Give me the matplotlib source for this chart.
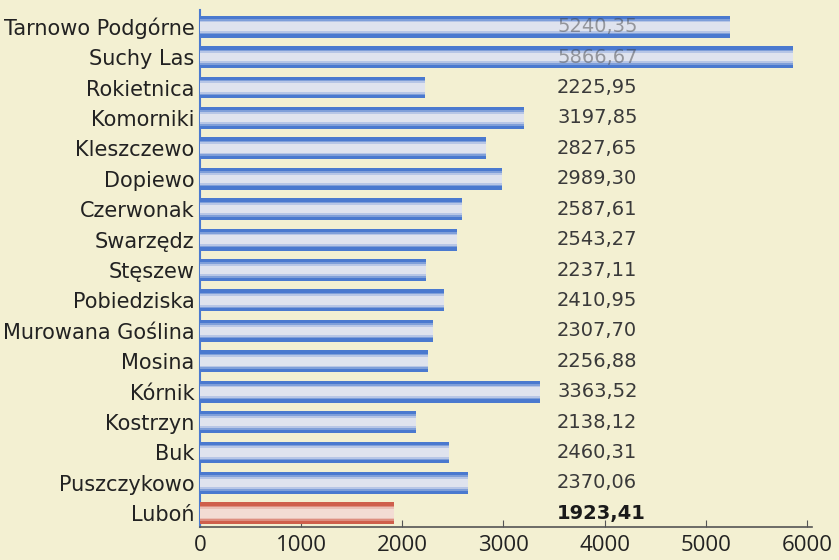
import numpy as np
import matplotlib.pyplot as plt

# dane z wykresu (od dołu do góry)
gminy = ["Luboń", "Puszczykowo", "Buk", "Kostrzyn", "Kórnik", "Mosina",
         "Murowana Goślina", "Pobiedziska", "Stęszew", "Swarzędz", "Czerwonak",
         "Dopiewo", "Kleszczewo", "Komorniki", "Rokietnica", "Suchy Las",
         "Tarnowo Podgórne"]
dlugosc_slupka = [1920, 2650, 2460, 2138, 3363, 2257, 2308, 2411, 2237, 2543,
                  2588, 2989, 2828, 3198, 2226, 5860, 5240]
etykiety = ["1923,41", "2370,06", "2460,31", "2138,12", "3363,52", "2256,88",
            "2307,70", "2410,95", "2237,11", "2543,27", "2587,61", "2989,30",
            "2827,65", "3197,85", "2225,95", "5866,67", "5240,35"]
xticks = [0, 1000, 2000, 3000, 4000, 5000, 6000]

TLO = "#f3f0d2"
NIEBIESKI = ["#4a79cf", "#7f9fd9", "#b7c6e6", "#dfe3ee"]
CZERWONY = ["#cf5f4c", "#dd8e80", "#ebc0b6", "#f3dcd4"]

plt.rcParams['font.family'] = ['DejaVu Sans']

fig = plt.figure(figsize=(8.39, 5.6), dpi=100, facecolor=TLO)
ax = fig.add_axes([200 / 839, 33 / 560, 612 / 839, 517 / 560], facecolor=TLO)

y = np.arange(len(gminy))
wys = [0.72, 0.5, 0.4, 0.28]
for i, (g, v) in enumerate(zip(gminy, dlugosc_slupka)):
    kolory = CZERWONY if g == "Luboń" else NIEBIESKI
    for h, c in zip(wys, kolory):
        ax.barh(i, v, height=h, color=c, linewidth=0, zorder=3)

# etykiety wartości (dwie górne nachodzą na słupki jak w oryginale)
for i, (g, t) in enumerate(zip(gminy, etykiety)):
    zakryta = dlugosc_slupka[i] > 3500
    ax.text(3530, i, t, ha="left", va="center", fontsize=14,
            color="#1a1a1a" if g == "Luboń" else "#3a3a3a",
            fontweight="bold" if g == "Luboń" else "normal",
            alpha=0.45 if zakryta else 1.0, zorder=4 if zakryta else 2)

ax.set_xlim(0, 6050)
ax.set_ylim(-0.45, 16.55)
ax.set_yticks(y)
ax.set_yticklabels(gminy, fontsize=15, color="#222222")
ax.set_xticks(xticks)
ax.set_xticklabels([str(t) for t in xticks], fontsize=16, color="#222222",
                   family=['Open Sans', 'DejaVu Sans'])

for s in ["top", "right"]:
    ax.spines[s].set_visible(False)
ax.spines["left"].set_color("#4a79cf")
ax.spines["left"].set_linewidth(1.5)
ax.spines["bottom"].set_color("#555555")
ax.spines["bottom"].set_linewidth(1.2)
ax.tick_params(axis="y", length=0, pad=4)
ax.tick_params(axis="x", direction="in", length=5, color="#555555", pad=6)

fig.savefig("out.png", dpi=100, facecolor=TLO)
